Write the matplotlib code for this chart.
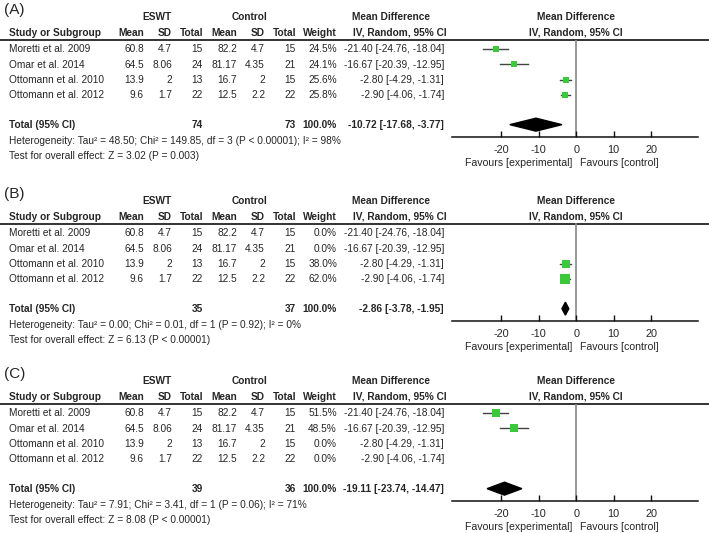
import matplotlib.pyplot as plt
from matplotlib.patches import Polygon

plt.rcParams['font.family'] = ['Liberation Sans', 'DejaVu Sans']

studies = ['Moretti et al. 2009', 'Omar et al. 2014', 'Ottomann et al. 2010', 'Ottomann et al. 2012']
eswt_mean = ['60.8', '64.5', '13.9', '9.6']
eswt_sd = ['4.7', '8.06', '2', '1.7']
eswt_n = [15, 24, 13, 22]
ctrl_mean = ['82.2', '81.17', '16.7', '12.5']
ctrl_sd = ['4.7', '4.35', '2', '2.2']
ctrl_n = [15, 21, 15, 22]
md = [-21.40, -16.67, -2.80, -2.90]
ci_low = [-24.76, -20.39, -4.29, -4.06]
ci_high = [-18.04, -12.95, -1.31, -1.74]

panel_labels = ['(A)', '(B)', '(C)']
weights = [[24.5, 24.1, 25.6, 25.8], [0.0, 0.0, 38.0, 62.0], [51.5, 48.5, 0.0, 0.0]]
total_eswt = [74, 35, 39]
total_ctrl = [73, 37, 36]
total_md = [-10.72, -2.86, -19.11]
total_low = [-17.68, -3.78, -23.74]
total_high = [-3.77, -1.95, -14.47]
heterogeneity = [
    'Heterogeneity: Tau\u00b2 = 48.50; Chi\u00b2 = 149.85, df = 3 (P < 0.00001); I\u00b2 = 98%',
    'Heterogeneity: Tau\u00b2 = 0.00; Chi\u00b2 = 0.01, df = 1 (P = 0.92); I\u00b2 = 0%',
    'Heterogeneity: Tau\u00b2 = 7.91; Chi\u00b2 = 3.41, df = 1 (P = 0.06); I\u00b2 = 71%',
]
overall = [
    'Test for overall effect: Z = 3.02 (P = 0.003)',
    'Test for overall effect: Z = 6.13 (P < 0.00001)',
    'Test for overall effect: Z = 8.08 (P < 0.00001)',
]
ticks = [-20, -10, 0, 10, 20]

W, H = 709, 533
TXT = '#262626'
GREEN = '#3cc83c'
FS = 7.3

fig = plt.figure(figsize=(W / 100, H / 100), dpi=100)
tab = fig.add_axes([0, 0, 1, 1])
tab.set_xlim(0, W)
tab.set_ylim(H, 0)
tab.axis('off')

offsets = [0, 184, 364]
row_y = [49, 64.5, 80, 95.5]
cols = [144, 172, 203, 237, 265, 296, 337]

for p in range(3):
    o = offsets[p]
    t = dict(color=TXT, fontsize=FS, va='center')
    tab.text(4, 10 + o, panel_labels[p], fontsize=11, color=TXT, va='center')
    tab.text(157, 17 + o, 'ESWT', ha='center', fontweight='bold', **t)
    tab.text(250, 17 + o, 'Control', ha='center', fontweight='bold', **t)
    tab.text(391, 17 + o, 'Mean Difference', ha='center', fontweight='bold', **t)
    tab.text(576, 17 + o, 'Mean Difference', ha='center', fontweight='bold', **t)
    tab.text(9, 32.5 + o, 'Study or Subgroup', ha='left', fontweight='bold', **t)
    for x, lab in zip(cols, ['Mean', 'SD', 'Total', 'Mean', 'SD', 'Total', 'Weight']):
        tab.text(x, 32.5 + o, lab, ha='right', fontweight='bold', **t)
    tab.text(400, 32.5 + o, 'IV, Random, 95% CI', ha='center', fontweight='bold', **t)
    tab.text(576, 32.5 + o, 'IV, Random, 95% CI', ha='center', fontweight='bold', **t)
    tab.plot([0, W], [39.5 + o, 39.5 + o], color='#111111', lw=1.2)

    for i in range(4):
        y = row_y[i] + o
        vals = [eswt_mean[i], eswt_sd[i], eswt_n[i], ctrl_mean[i], ctrl_sd[i], ctrl_n[i],
                f'{weights[p][i]:.1f}%']
        tab.text(9, y, studies[i], ha='left', **t)
        for x, v in zip(cols, vals):
            tab.text(x, y, str(v), ha='right', **t)
        tab.text(444, y, f'{md[i]:.2f} [{ci_low[i]:.2f}, {ci_high[i]:.2f}]', ha='right', **t)

    yt = 125 + o
    tab.text(9, yt, 'Total (95% CI)', ha='left', fontweight='bold', **t)
    tab.text(cols[2], yt, str(total_eswt[p]), ha='right', fontweight='bold', **t)
    tab.text(cols[5], yt, str(total_ctrl[p]), ha='right', fontweight='bold', **t)
    tab.text(cols[6], yt, '100.0%', ha='right', fontweight='bold', **t)
    tab.text(444, yt, f'{total_md[p]:.2f} [{total_low[p]:.2f}, {total_high[p]:.2f}]',
             ha='right', fontweight='bold', **t)
    tab.text(9, 141 + o, heterogeneity[p], ha='left', **t)
    tab.text(9, 156 + o, overall[p], ha='left', **t)

    # forest plot
    top, bot = 39.5 + o, 137 + o
    ax = fig.add_axes([452 / W, 1 - bot / H, 246 / W, (bot - top) / H])
    ax.set_xlim(-33.1, 32.5)
    ax.set_ylim(5.7, -0.62)
    ax.patch.set_alpha(0)
    for s in ['left', 'right', 'top']:
        ax.spines[s].set_visible(False)
    ax.spines['bottom'].set_color('#111111')
    ax.spines['bottom'].set_linewidth(1.1)
    ax.set_yticks([])
    ax.set_xticks(ticks)
    ax.set_xticklabels([str(v) for v in ticks])
    ax.tick_params(axis='x', direction='in', length=4, width=1, color='#111111',
                   labelsize=FS + 0.5, labelcolor=TXT, pad=5.5)
    ax.axvline(0, color='#888888', lw=1.2, zorder=1)
    for i in range(4):
        w = weights[p][i]
        if w <= 0:
            continue
        ax.plot([ci_low[i], ci_high[i]], [i, i], color='#444444', lw=1, zorder=2)
        # square size grows with study weight
        ax.plot(md[i], i, marker='s', color=GREEN, ms=(3.6 + 0.09 * w) * 0.72, mew=0, zorder=3)
    ytot = 4.9
    h = 0.42
    ax.add_patch(Polygon([(total_low[p], ytot), (total_md[p], ytot - h),
                          (total_high[p], ytot), (total_md[p], ytot + h)],
                         closed=True, color='black', zorder=3))
    ax.text(-1, -0.27, 'Favours [experimental]', transform=ax.get_xaxis_transform(),
            ha='right', va='center', fontsize=FS + 0.3, color=TXT)
    ax.text(1, -0.27, 'Favours [control]', transform=ax.get_xaxis_transform(),
            ha='left', va='center', fontsize=FS + 0.3, color=TXT)

fig.savefig('out.png', dpi=100)
